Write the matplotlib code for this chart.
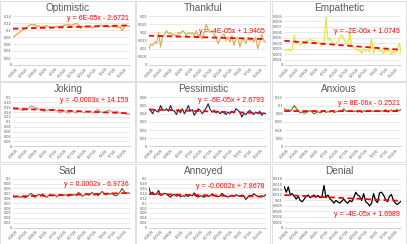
import matplotlib.pyplot as plt
import matplotlib.dates as mdates
import numpy as np
import pandas as pd

plt.rcParams['font.family'] = ['Liberation Sans', 'DejaVu Sans']

dates = pd.date_range("2020-03-15", periods=60, freq="D")

optimistic = [0.078, 0.083, 0.088, 0.092, 0.097, 0.100, 0.104, 0.108, 0.112, 0.116,
              0.114, 0.116, 0.110, 0.112, 0.108, 0.111, 0.109, 0.113, 0.110, 0.108,
              0.106, 0.109, 0.111, 0.108, 0.112, 0.110, 0.115, 0.114, 0.116, 0.113,
              0.115, 0.117, 0.118, 0.116, 0.104, 0.110, 0.109, 0.112, 0.110, 0.111,
              0.105, 0.110, 0.112, 0.109, 0.114, 0.112, 0.108, 0.113, 0.107, 0.110,
              0.111, 0.108, 0.109, 0.107, 0.110, 0.098, 0.108, 0.113, 0.111, 0.110]
thankful = [0.009, 0.013, 0.012, 0.014, 0.013, 0.020, 0.011, 0.017, 0.019, 0.021,
            0.019, 0.020, 0.018, 0.019, 0.017, 0.020, 0.019, 0.021, 0.020, 0.018,
            0.020, 0.019, 0.020, 0.018, 0.021, 0.017, 0.019, 0.016, 0.020, 0.025,
            0.022, 0.020, 0.021, 0.019, 0.017, 0.013, 0.016, 0.018, 0.019, 0.015,
            0.017, 0.014, 0.018, 0.012, 0.016, 0.017, 0.011, 0.015, 0.016, 0.013,
            0.017, 0.015, 0.016, 0.014, 0.017, 0.010, 0.014, 0.019, 0.015, 0.014]
empathetic = [0.0028, 0.0027, 0.0029, 0.0026, 0.0028, 0.0055, 0.0038, 0.0041, 0.0037, 0.0040,
              0.0039, 0.0046, 0.0042, 0.0048, 0.0044, 0.0046, 0.0040, 0.0043, 0.0038, 0.0036,
              0.0040, 0.0088, 0.0045, 0.0050, 0.0042, 0.0038, 0.0040, 0.0043, 0.0050, 0.0055,
              0.0048, 0.0040, 0.0036, 0.0060, 0.0034, 0.0032, 0.0030, 0.0026, 0.0028, 0.0021,
              0.0030, 0.0025, 0.0028, 0.0024, 0.0048, 0.0022, 0.0030, 0.0033, 0.0025, 0.0028,
              0.0021, 0.0030, 0.0024, 0.0028, 0.0019, 0.0026, 0.0022, 0.0028, 0.0040, 0.0021]
joking = [0.160, 0.155, 0.158, 0.152, 0.150, 0.146, 0.150, 0.148, 0.155, 0.165,
          0.163, 0.158, 0.155, 0.152, 0.148, 0.145, 0.142, 0.146, 0.150, 0.148,
          0.152, 0.150, 0.146, 0.140, 0.136, 0.142, 0.145, 0.138, 0.135, 0.140,
          0.144, 0.138, 0.136, 0.142, 0.145, 0.140, 0.136, 0.142, 0.140, 0.144,
          0.138, 0.135, 0.148, 0.150, 0.142, 0.138, 0.136, 0.140, 0.148, 0.145,
          0.142, 0.138, 0.144, 0.140, 0.136, 0.134, 0.138, 0.132, 0.130, 0.133]
pessimistic = [0.046, 0.044, 0.040, 0.045, 0.043, 0.042, 0.050, 0.045, 0.044, 0.046,
               0.043, 0.050, 0.044, 0.043, 0.039, 0.045, 0.041, 0.046, 0.040, 0.044,
               0.050, 0.043, 0.045, 0.038, 0.042, 0.046, 0.044, 0.040, 0.043, 0.047,
               0.052, 0.045, 0.042, 0.044, 0.041, 0.043, 0.040, 0.042, 0.041, 0.039,
               0.042, 0.040, 0.043, 0.041, 0.046, 0.044, 0.042, 0.036, 0.040, 0.039,
               0.042, 0.044, 0.041, 0.039, 0.042, 0.040, 0.043, 0.038, 0.041, 0.040]
anxious = [0.092, 0.088, 0.090, 0.086, 0.092, 0.100, 0.093, 0.088, 0.082, 0.084,
           0.081, 0.083, 0.085, 0.088, 0.084, 0.080, 0.082, 0.085, 0.082, 0.084,
           0.087, 0.083, 0.085, 0.084, 0.086, 0.083, 0.084, 0.086, 0.085, 0.087,
           0.092, 0.086, 0.085, 0.087, 0.086, 0.085, 0.087, 0.084, 0.086, 0.083,
           0.087, 0.085, 0.088, 0.086, 0.087, 0.085, 0.088, 0.086, 0.085, 0.087,
           0.086, 0.090, 0.084, 0.086, 0.089, 0.085, 0.088, 0.090, 0.087, 0.091]
sad = [0.066, 0.063, 0.064, 0.063, 0.062, 0.064, 0.061, 0.063, 0.066, 0.070,
       0.067, 0.062, 0.065, 0.068, 0.066, 0.069, 0.064, 0.062, 0.066, 0.068,
       0.065, 0.067, 0.063, 0.066, 0.068, 0.065, 0.067, 0.066, 0.064, 0.067,
       0.066, 0.068, 0.065, 0.072, 0.068, 0.064, 0.067, 0.070, 0.066, 0.069,
       0.072, 0.066, 0.068, 0.065, 0.070, 0.074, 0.069, 0.067, 0.070, 0.068,
       0.071, 0.066, 0.065, 0.068, 0.073, 0.080, 0.074, 0.070, 0.071, 0.070]
annoyed = [0.165, 0.140, 0.145, 0.135, 0.138, 0.152, 0.132, 0.135, 0.140, 0.138,
           0.130, 0.125, 0.132, 0.136, 0.128, 0.134, 0.126, 0.130, 0.128, 0.132,
           0.127, 0.134, 0.130, 0.142, 0.128, 0.125, 0.130, 0.128, 0.124, 0.132,
           0.127, 0.130, 0.138, 0.132, 0.128, 0.126, 0.130, 0.140, 0.132, 0.128,
           0.125, 0.130, 0.132, 0.128, 0.134, 0.131, 0.127, 0.133, 0.130, 0.115,
           0.125, 0.132, 0.130, 0.138, 0.132, 0.128, 0.126, 0.130, 0.128, 0.134]
denial = [0.0150, 0.0130, 0.0150, 0.0120, 0.0125, 0.0115, 0.0105, 0.0115, 0.0100, 0.0095,
          0.0105, 0.0115, 0.0120, 0.0110, 0.0115, 0.0120, 0.0112, 0.0118, 0.0110, 0.0115,
          0.0155, 0.0110, 0.0120, 0.0105, 0.0100, 0.0090, 0.0100, 0.0095, 0.0090, 0.0098,
          0.0105, 0.0095, 0.0090, 0.0100, 0.0095, 0.0110, 0.0130, 0.0120, 0.0115, 0.0100,
          0.0125, 0.0095, 0.0090, 0.0080, 0.0090, 0.0125, 0.0100, 0.0092, 0.0128, 0.0130,
          0.0120, 0.0105, 0.0095, 0.0115, 0.0122, 0.0100, 0.0090, 0.0085, 0.0092, 0.0098]

titles = ["Optimistic", "Thankful", "Empathetic", "Joking", "Pessimistic",
          "Anxious", "Sad", "Annoyed", "Denial"]
series = [optimistic, thankful, empathetic, joking, pessimistic,
          anxious, sad, annoyed, denial]
equations = ["y = 6E-05x - 2.6721", "y = -4E-05x + 1.9465", "y = -2E-06x + 1.0749",
             "y = -0.0003x + 14.159", "y = -6E-05x + 2.6793", "y = 8E-06x - 0.2521",
             "y = 0.0002x - 6.9736", "y = -0.0002x + 7.8678", "y = -4E-05x + 1.6989"]
ymax = [0.14, 0.03, 0.009, 0.2, 0.06, 0.12, 0.1, 0.2, 0.018]
ystep = [0.02, 0.005, 0.001, 0.02, 0.01, 0.02, 0.01, 0.02, 0.002]
colors = ["#F4A234", "#D4B45A", "#E6E640", "#C9A085", "#203864",
          "#7A7A30", "#8B5A2B", "#5A1E1E", "#000000"]
eq_y = [0.94, 0.69, 0.69, 0.94, 0.94, 0.88, 0.88, 0.83, 0.27]

W, H = 407, 244
fig = plt.figure(figsize=(W / 100, H / 100), dpi=100)
pw, ph = W / 3, H / 3

x_num = mdates.date2num(dates)
for i in range(9):
    r, c = divmod(i, 3)
    x0, y0 = c * pw, r * ph
    # panel border
    fig.patches.append(plt.Rectangle((x0 / W + 0.001, 1 - (y0 + ph) / H + 0.002),
                                     (pw - 1.5) / W, (ph - 1.5) / H,
                                     transform=fig.transFigure, fill=False,
                                     edgecolor="#D9D9D9", lw=0.6))
    fig.text((x0 + pw / 2) / W, 1 - (y0 + 8) / H, titles[i], ha="center", va="center",
             fontsize=7.2, color="#595959")
    ax = fig.add_axes([(x0 + 13) / W, 1 - (y0 + 65) / H, 117 / W, 49 / H])
    y = np.array(series[i])
    ax.plot(dates, y, color=colors[i], lw=0.9)
    k, b = np.polyfit(x_num, y, 1)
    ax.plot(dates, k * x_num + b, color="#FF0000", lw=1.3, ls=(0, (3, 2)))
    ax.text(0.99, eq_y[i], equations[i], transform=ax.transAxes, ha="right",
            va="center", fontsize=5, color="#FF0000")
    ax.set_ylim(0, ymax[i])
    ax.set_yticks(np.arange(0, ymax[i] + ystep[i] / 2, ystep[i]))
    ax.yaxis.set_major_formatter(plt.FuncFormatter(lambda v, p: ("%g" % round(v, 4))))
    ax.set_xlim(dates[0], dates[-1])
    ax.xaxis.set_major_locator(mdates.DayLocator(interval=5))
    ax.xaxis.set_major_formatter(mdates.DateFormatter("%-m/%-d/%y"))
    ax.grid(axis="y", color="#D9D9D9", lw=0.4)
    ax.set_axisbelow(True)
    for s in ["top", "right", "left"]:
        ax.spines[s].set_visible(False)
    ax.spines["bottom"].set_color("#BFBFBF")
    ax.spines["bottom"].set_linewidth(0.5)
    ax.tick_params(axis="y", length=0, labelsize=2.8, labelcolor="#595959", pad=1)
    ax.tick_params(axis="x", length=1, width=0.4, color="#BFBFBF", labelsize=2.6,
                   labelcolor="#595959", pad=0.5, labelrotation=45)
    for lab in ax.get_xticklabels():
        lab.set_ha("right")

fig.savefig("out.png", dpi=100)
